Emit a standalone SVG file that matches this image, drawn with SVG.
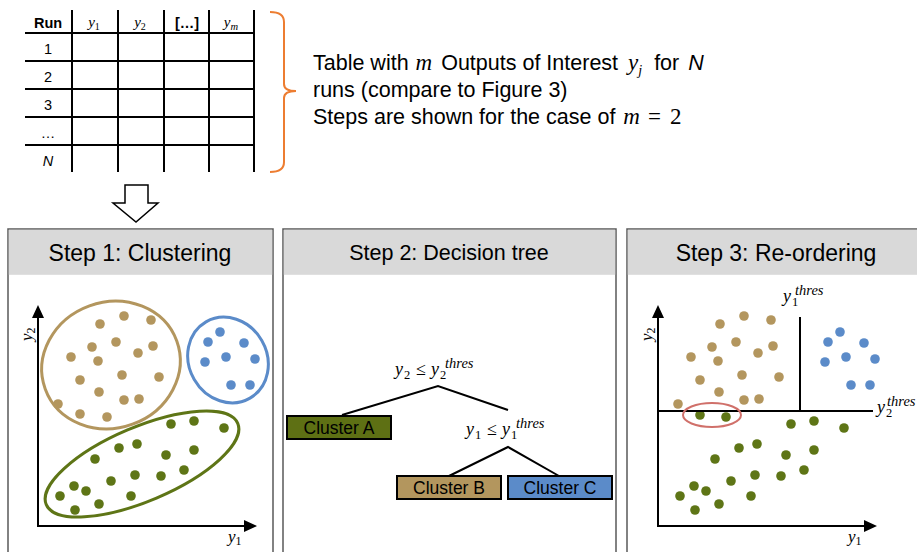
<svg xmlns="http://www.w3.org/2000/svg" width="917" height="552" viewBox="0 0 917 552">
<style>
text{font-family:"Liberation Sans",Arial,sans-serif;fill:#000}
.m{font-family:"Liberation Serif","Times New Roman",serif;font-style:italic}
.mn{font-family:"Liberation Serif","Times New Roman",serif;font-style:normal}
.tl{stroke:#000;stroke-width:2;fill:none}
.panel{fill:#fff;stroke:#595959;stroke-width:1.5}
.hdr{fill:#d9d9d9}
.ht{font-size:23px;text-anchor:middle}
.tan{fill:#b3965e}
.blu{fill:#5b8bc9}
.grn{fill:#5e7516}
.ax{stroke:#000;stroke-width:2;fill:none}
.cl{font-size:17.5px;text-anchor:middle}
.box{stroke:#000;stroke-width:2}
.sb{font-size:12.5px}
.sp{font-size:14.5px}
</style>
<defs>
<g id="tanDots" class="tan">
<circle cx="100" cy="324" r="4.8"/><circle cx="124" cy="316" r="4.8"/><circle cx="151" cy="320" r="4.8"/>
<circle cx="92" cy="347" r="4.8"/><circle cx="116" cy="342" r="4.8"/><circle cx="153" cy="346" r="4.8"/>
<circle cx="71" cy="357" r="4.8"/><circle cx="98" cy="361" r="4.8"/><circle cx="138" cy="353" r="4.8"/>
<circle cx="80" cy="380" r="4.8"/><circle cx="122" cy="375" r="4.8"/><circle cx="159" cy="377" r="4.8"/>
<circle cx="99" cy="392" r="4.8"/><circle cx="124" cy="400" r="4.8"/><circle cx="139" cy="399" r="4.8"/>
<circle cx="58" cy="404" r="4.8"/>
</g>
<g id="blueDots" class="blu">
<circle cx="220" cy="332" r="4.8"/><circle cx="208" cy="342" r="4.8"/><circle cx="244" cy="343" r="4.8"/>
<circle cx="226" cy="357" r="4.8"/><circle cx="205" cy="362" r="4.8"/><circle cx="255" cy="359" r="4.8"/>
<circle cx="231" cy="385" r="4.8"/><circle cx="250" cy="385" r="4.8"/>
</g>
<g id="greenDots" class="grn">
<circle cx="171" cy="424" r="4.8"/><circle cx="194" cy="421" r="4.8"/><circle cx="224" cy="428" r="4.8"/>
<circle cx="119" cy="448" r="4.8"/><circle cx="137" cy="444" r="4.8"/><circle cx="95" cy="459" r="4.8"/>
<circle cx="166" cy="455" r="4.8"/><circle cx="194" cy="450" r="4.8"/><circle cx="184" cy="470" r="4.8"/>
<circle cx="135" cy="475" r="4.8"/><circle cx="161" cy="476" r="4.8"/><circle cx="111" cy="481" r="4.8"/>
<circle cx="74" cy="486" r="4.8"/><circle cx="86" cy="491" r="4.8"/><circle cx="60" cy="496" r="4.8"/>
<circle cx="131" cy="496" r="4.8"/><circle cx="99" cy="504" r="4.8"/><circle cx="75" cy="510" r="4.8"/>
</g>
<g id="axes">
<path class="ax" d="M38,316 V526 H246"/>
<path d="M38,305 L32,318 L44,318 Z M257,526 L244,520 L244,532 Z" fill="#000"/>
<text class="m" font-size="17" transform="translate(32,341) rotate(-90)">y<tspan class="mn" font-size="12" dy="3">2</tspan></text>
<text class="m" font-size="17" x="228" y="542">y<tspan class="mn" font-size="12" dy="3">1</tspan></text>
</g>
</defs>

<g id="table">
<g class="tl">
<line x1="72" y1="10" x2="72" y2="172"/><line x1="118" y1="10" x2="118" y2="172"/>
<line x1="164" y1="10" x2="164" y2="172"/><line x1="209" y1="10" x2="209" y2="172"/>
<line x1="254" y1="10" x2="254" y2="172"/>
<line x1="25" y1="33" x2="255" y2="33"/><line x1="25" y1="61" x2="255" y2="61"/>
<line x1="25" y1="89" x2="255" y2="89"/><line x1="25" y1="117" x2="255" y2="117"/>
<line x1="25" y1="145" x2="255" y2="145"/>
</g>
<g font-size="14.5" text-anchor="middle">
<text x="48" y="28" font-weight="bold">Run</text>
<text x="94" y="27" class="m" font-size="15">y<tspan class="mn" font-size="10" dy="3">1</tspan></text>
<text x="140" y="27" class="m" font-size="15">y<tspan class="mn" font-size="10" dy="3">2</tspan></text>
<text x="187" y="28" font-weight="bold">[…]</text>
<text x="231" y="27" class="m" font-size="15">y<tspan font-size="10.5" dy="3">m</tspan></text>
<text x="48" y="54">1</text>
<text x="48" y="82">2</text>
<text x="48" y="110">3</text>
<text x="48" y="138">…</text>
<text x="48" y="166" font-style="italic">N</text>
</g>
</g>

<g id="brace">
<path d="M270,12 Q284,12 284,22 V84 Q284,91 296,91 Q284,91 284,98 V162 Q284,172 270,172" fill="none" stroke="#ed7d31" stroke-width="2"/>
</g>

<g id="description" font-size="21.5">
<text x="313" y="70">Table with <tspan class="m" font-size="23" dx="1">m</tspan><tspan dx="3"> Outputs of Interest </tspan><tspan class="m" font-size="23" dx="4">y</tspan><tspan class="m" font-size="14" dy="5">j</tspan><tspan dy="-5" dx="6"> for </tspan><tspan font-style="italic" dx="3">N</tspan></text>
<text x="313" y="97">runs (compare to Figure 3)</text>
<text x="313" y="124">Steps are shown for the case of <tspan class="m" font-size="23" dx="2">m</tspan><tspan class="mn" font-size="23" dx="8">=</tspan><tspan class="mn" font-size="23" dx="9">2</tspan></text>
</g>

<g id="down-arrow">
<path d="M125,185 H148 V203 H158 L136,222 L113,203 H125 Z" fill="#fff" stroke="#000" stroke-width="1.5"/>
</g>

<g id="step1">
<rect class="panel" x="8" y="229" width="265" height="340"/>
<rect class="hdr" x="8.8" y="229.8" width="263.4" height="45"/>
<text class="ht" x="140" y="261">Step 1: Clustering</text>
<use href="#axes"/>
<ellipse cx="111" cy="365" rx="70" ry="63" transform="rotate(-20 111 365)" fill="none" stroke="#b3965e" stroke-width="3"/>
<ellipse cx="228" cy="360" rx="39" ry="44" transform="rotate(-30 228 360)" fill="none" stroke="#5b8bc9" stroke-width="3"/>
<ellipse cx="142" cy="464" rx="104" ry="37" transform="rotate(-23 142 464)" fill="none" stroke="#5e7516" stroke-width="3"/>
<use href="#tanDots"/>
<g class="tan"><circle cx="80" cy="414" r="4.8"/><circle cx="107" cy="417" r="4.8"/></g>
<use href="#blueDots"/>
<use href="#greenDots"/>
</g>

<g id="step2">
<rect class="panel" x="283" y="229" width="333" height="340"/>
<rect class="hdr" x="283.8" y="229.8" width="331.4" height="45"/>
<text class="ht" x="449" y="260" style="font-size:21.5px">Step 2: Decision tree</text>
<g id="tree-lines" stroke="#000" stroke-width="2" fill="none">
<path d="M342,415 L438,386 L508,410"/>
<path d="M449,476 L508,447 L559,476"/>
</g>
<text id="cond1" class="m" font-size="18" x="395" y="375">y<tspan class="mn sb" x="404" y="379">2</tspan><tspan class="mn" x="416" y="375">≤</tspan><tspan x="431" y="375">y</tspan><tspan class="mn sb" x="440" y="379">2</tspan><tspan class="sp" x="445" y="368">thres</tspan></text>
<text id="cond2" class="m" font-size="18" x="466" y="435">y<tspan class="mn sb" x="475" y="439">1</tspan><tspan class="mn" x="487" y="435">≤</tspan><tspan x="502" y="435">y</tspan><tspan class="mn sb" x="511" y="439">1</tspan><tspan class="sp" x="516" y="428">thres</tspan></text>
<g id="clusterA"><rect class="box" x="287" y="416" width="104" height="23" fill="#5e7014"/><text class="cl" x="339" y="434">Cluster A</text></g>
<g id="clusterB"><rect class="box" x="397" y="476" width="104" height="23" fill="#b3965e"/><text class="cl" x="449" y="494">Cluster B</text></g>
<g id="clusterC"><rect class="box" x="508" y="476" width="104" height="23" fill="#5b8bc9"/><text class="cl" x="560" y="494">Cluster C</text></g>
</g>

<g id="step3">
<rect class="panel" x="627" y="229" width="310" height="340"/>
<rect class="hdr" x="627.8" y="229.8" width="300" height="45"/>
<text class="ht" x="776" y="261">Step 3: Re-ordering</text>
<g transform="translate(620,0)">
<use href="#axes"/>
<use href="#tanDots"/>
<use href="#blueDots"/>
<use href="#greenDots"/>
<g class="grn"><circle cx="80" cy="415" r="4.8"/><circle cx="106" cy="417" r="4.8"/></g>
</g>
<path d="M800,317 V411 M658,411 H873" stroke="#000" stroke-width="2" fill="none"/>
<ellipse cx="712" cy="415" rx="29" ry="12" fill="none" stroke="#d0706a" stroke-width="2"/>
<text class="m" font-size="18" x="783" y="302">y<tspan class="mn sb" x="792" y="306">1</tspan><tspan class="sp" x="795" y="295">thres</tspan></text>
<text class="m" font-size="18" x="877" y="413">y<tspan class="mn sb" x="886" y="417">2</tspan><tspan class="sp" x="887" y="406">thres</tspan></text>
</g>
</svg>
